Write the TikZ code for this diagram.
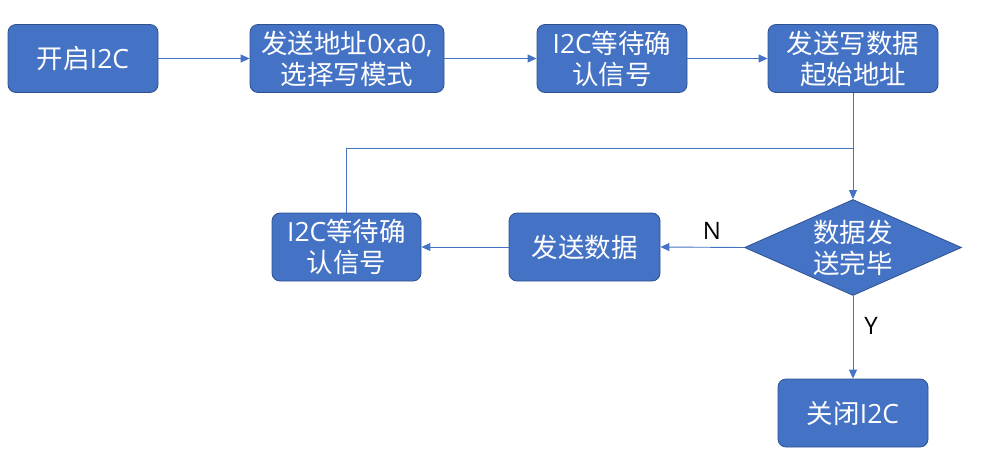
\documentclass[tikz,border=0pt]{standalone}
\usepackage{fontspec}
\setmainfont{Noto Sans CJK SC}
\newfontfamily\lat{Open Sans}
\usetikzlibrary{shapes.geometric,arrows.meta}
\definecolor{boxfill}{HTML}{4472C4}
\definecolor{boxline}{HTML}{2F528F}
\definecolor{lineblue}{HTML}{4472C4}
\tikzset{
  stepbox/.style={draw=boxline, line width=0.8pt, fill=boxfill, rounded corners=8pt,
    text=white, align=center, inner sep=0pt, font=\fontsize{26.5}{31}\selectfont},
  decision/.style={diamond, draw=boxline, line width=0.8pt, fill=boxfill, text=white,
    align=center, inner sep=0pt, minimum width=217pt, minimum height=96pt, shape aspect=2.25,
    font=\fontsize{26.5}{31}\selectfont},
  conn/.style={draw=lineblue, line width=0.9pt, -{Triangle[length=9pt,width=8pt]}},
  plain/.style={draw=lineblue, line width=0.9pt},
  lbl/.style={font=\lat\fontsize{24}{28}\selectfont, text=black}
}
\begin{document}
\begin{tikzpicture}[x=1pt,y=-1pt]
\useasboundingbox (0,0) rectangle (989,471);
\node[stepbox, minimum width=150pt, minimum height=68pt] (s1) at (83,58.5) {开启{\lat I2C}};
\node[stepbox, minimum width=194pt, minimum height=68pt] (s2) at (347,58.5) {发送地址{\lat 0xa0,}\\选择写模式};
\node[stepbox, minimum width=150pt, minimum height=68pt] (s3) at (612,58.5) {{\lat I2C}等待确\\认信号};
\node[stepbox, minimum width=170pt, minimum height=68pt] (s4) at (853,58.5) {发送写数据\\起始地址};
\node[decision] (d) at (853,247.5) {数据发\\送完毕};
\node[stepbox, minimum width=151pt, minimum height=68pt] (w1) at (584.5,247) {发送数据};
\node[stepbox, minimum width=149pt, minimum height=68pt] (w2) at (346.5,247) {{\lat I2C}等待确\\认信号};
\node[stepbox, minimum width=150pt, minimum height=68pt] (e) at (853,413) {关闭{\lat I2C}};
\coordinate (j) at (853,148);
\node[lbl] (nl) at (712,231) {N};
\node[lbl] (yl) at (871,326) {Y};
\draw[conn] (s1) -- (s2);
\draw[conn] (s2) -- (s3);
\draw[conn] (s3) -- (s4);
\draw[conn] (s4) -- (d.north);
\draw[plain] (w2.north) |- (j);
\draw[conn] (d.west) -- (w1.east);
\draw[conn] (w1) -- (w2);
\draw[conn] (d.south) -- (e.north);
\end{tikzpicture}
\end{document}
